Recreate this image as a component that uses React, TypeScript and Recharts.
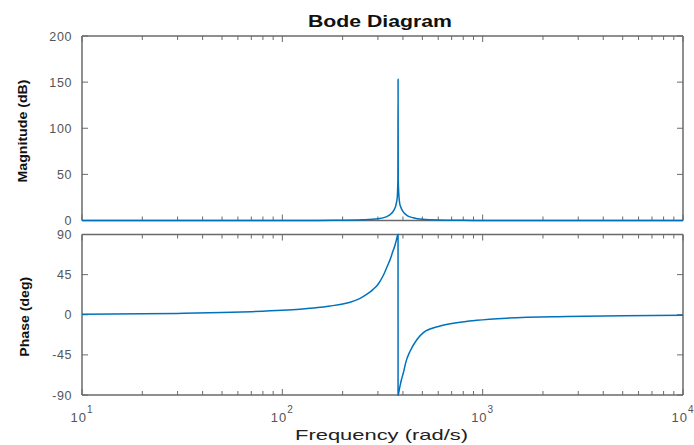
import React from 'react';
import { LineChart, Line, XAxis, YAxis } from 'recharts';

// ---- data ----
const magFreq = [10, 30, 60, 100, 150, 200, 250, 300, 330, 350, 360, 370, 375, 376, 377.5, 378.2, 379, 380, 385, 390, 400, 420, 450, 500, 600, 800, 1000, 2000, 5000, 10000];
const magDb = [0, 0, 0, 0.05, 0.1, 0.25, 0.7, 1.8, 3.9, 7.5, 11, 17.8, 26, 32, 45, 153, 45, 36, 19, 14.6, 9.8, 5.4, 3, 1.3, 0.5, 0.2, 0.1, 0, 0, 0];

const phaseFreq = [10, 20, 30, 50, 70, 100, 122, 150, 173, 200, 218, 240, 254, 270, 284, 300, 319, 335, 344, 355, 365, 372, 376, 378.1, 378.2, 385, 392, 402, 415, 434, 469, 506, 613, 742, 934, 1318, 2630, 5000, 10000];
const phaseDeg = [0.5, 1, 1.5, 2.5, 3.5, 5, 6.2, 8, 9.8, 12, 14, 17.5, 20.5, 24.5, 28.5, 34, 44, 55, 61, 70, 78, 85, 89, 90, -90, -82, -74, -65, -52, -41, -28, -20, -12.7, -8.9, -6.2, -3.8, -1.9, -1, -0.5];

const majorFreqTicks = [10, 100, 1000, 10000];
const minorFreqTicks = [20, 30, 40, 50, 60, 70, 80, 90, 200, 300, 400, 500, 600, 700, 800, 900, 2000, 3000, 4000, 5000, 6000, 7000, 8000, 9000];
const magTicks = [0, 50, 100, 150, 200];
const phaseTicks = [-90, -45, 0, 45, 90];

const titleText = 'Bode Diagram';
const magLabel = 'Magnitude (dB)';
const phaseLabel = 'Phase (deg)';
const freqLabel = 'Frequency (rad/s)';

// ---- styles ----
const LINE = '#0072BD';
const AXIS = '#6a6a6a';
const TICKTXT = '#555555';
const FONT = '"Liberation Sans", Arial, sans-serif';
const W = 694;
const H = 445;

const allFreqTicks = [...majorFreqTicks, ...minorFreqTicks].sort((a, b) => a - b);
const magData = magFreq.map((w, i) => ({ w, v: magDb[i] }));
const phaseData = phaseFreq.map((w, i) => ({ w, v: phaseDeg[i] }));

const XTick = (props: any) => {
  const { x, y, payload, dir, labels } = props;
  const major = majorFreqTicks.includes(payload.value);
  const len = major ? 6 : 4;
  const exp = Math.round(Math.log10(payload.value));
  return (
    <g>
      <line x1={x} x2={x} y1={y} y2={y + dir * len} stroke={AXIS} strokeWidth={1} />
      {labels && major ? (
        <text x={x} y={y + 26.5} textAnchor="middle" fontSize={13} fill={TICKTXT} fontFamily={FONT} letterSpacing={1}>
          10
          <tspan dy={-9} fontSize={10}>{exp}</tspan>
        </text>
      ) : null}
    </g>
  );
};

const YTick = (props: any) => {
  const { x, y, payload, dir, labels } = props;
  return (
    <g>
      <line x1={x} x2={x + dir * 6} y1={y} y2={y} stroke={AXIS} strokeWidth={1} />
      {labels ? (
        <text x={x - 10} y={y} dy="0.36em" textAnchor="end" fontSize={12.5} fill={TICKTXT} fontFamily={FONT} letterSpacing={0.6}>
          {payload.value}
        </text>
      ) : null}
    </g>
  );
};

const axisLineStyle = { stroke: AXIS, strokeWidth: 1.5 };

type PanelProps = { data: any[]; top: number; bottom: number; yTicks: number[]; yDomain: [number, number]; xLabels: boolean };

const PanelAxes = (p: PanelProps) => (
  <div style={{ position: 'absolute', left: 0, top: 0 }}>
    <LineChart width={W} height={H} data={p.data} margin={{ top: p.top - 1, right: 10, bottom: H - p.bottom - 1, left: 81 }}>
      <XAxis
        dataKey="w"
        type="number"
        scale="log"
        domain={[10, 10000]}
        allowDataOverflow
        ticks={allFreqTicks}
        interval={0}
        height={1}
        tickSize={0}
        tickMargin={0}
        axisLine={axisLineStyle}
        tickLine={false}
        tick={(t: any) => <XTick {...t} dir={-1} labels={p.xLabels} />}
      />
      <XAxis
        xAxisId="top"
        orientation="top"
        dataKey="w"
        type="number"
        scale="log"
        domain={[10, 10000]}
        allowDataOverflow
        ticks={allFreqTicks}
        interval={0}
        height={1}
        tickSize={0}
        tickMargin={0}
        axisLine={axisLineStyle}
        tickLine={false}
        tick={(t: any) => <XTick {...t} dir={1} labels={false} />}
      />
      <YAxis
        type="number"
        domain={p.yDomain}
        allowDataOverflow
        ticks={p.yTicks}
        interval={0}
        width={1}
        tickSize={0}
        tickMargin={0}
        axisLine={axisLineStyle}
        tickLine={false}
        tick={(t: any) => <YTick {...t} dir={1} labels={true} />}
      />
      <YAxis
        yAxisId="right"
        orientation="right"
        type="number"
        domain={p.yDomain}
        allowDataOverflow
        ticks={p.yTicks}
        interval={0}
        width={1}
        tickSize={0}
        tickMargin={0}
        axisLine={axisLineStyle}
        tickLine={false}
        tick={(t: any) => <YTick {...t} dir={-1} labels={false} />}
      />
    </LineChart>
  </div>
);

const PanelLine = (p: PanelProps) => (
  <div style={{ position: 'absolute', left: 0, top: 0 }}>
    <LineChart width={W} height={H} data={p.data} margin={{ top: p.top, right: 11, bottom: H - p.bottom, left: 82 }}>
      <XAxis dataKey="w" type="number" scale="log" domain={[10, 10000]} hide />
      <YAxis type="number" domain={p.yDomain} hide />
      <Line dataKey="v" type="monotone" dot={false} stroke={LINE} strokeWidth={1.5} isAnimationActive={false} />
    </LineChart>
  </div>
);

export default function App() {
  const mag: PanelProps = { data: magData, top: 36, bottom: 220.5, yTicks: magTicks, yDomain: [0, 200], xLabels: false };
  const ph: PanelProps = { data: phaseData, top: 234.5, bottom: 395, yTicks: phaseTicks, yDomain: [-90, 90], xLabels: true };
  return (
    <div style={{ position: 'absolute', left: 0, top: 0, width: W, height: H, background: '#fff', overflow: 'hidden' }}>
      <PanelAxes {...mag} />
      <PanelAxes {...ph} />
      <PanelLine {...mag} />
      <PanelLine {...ph} />
      <svg width={W} height={H} style={{ position: 'absolute', left: 0, top: 0, pointerEvents: 'none' }}>
        <text x={308} y={26.5} fontSize={16} fontWeight="bold" fill="#111" fontFamily={FONT} textLength={144} lengthAdjust="spacingAndGlyphs">
          {titleText}
        </text>
        <text transform="translate(27,131) rotate(-90)" x={-51.5} y={0} fontSize={13} fontWeight="bold" fill="#111" fontFamily={FONT} textLength={103} lengthAdjust="spacingAndGlyphs">
          {magLabel}
        </text>
        <text transform="translate(29,316.7) rotate(-90)" x={-40} y={0} fontSize={13.5} fontWeight="bold" fill="#111" fontFamily={FONT} textLength={80} lengthAdjust="spacingAndGlyphs">
          {phaseLabel}
        </text>
        <text x={295} y={440} fontSize={15} fill="#222" fontFamily={FONT} textLength={173} lengthAdjust="spacingAndGlyphs">
          {freqLabel}
        </text>
      </svg>
    </div>
  );
}
